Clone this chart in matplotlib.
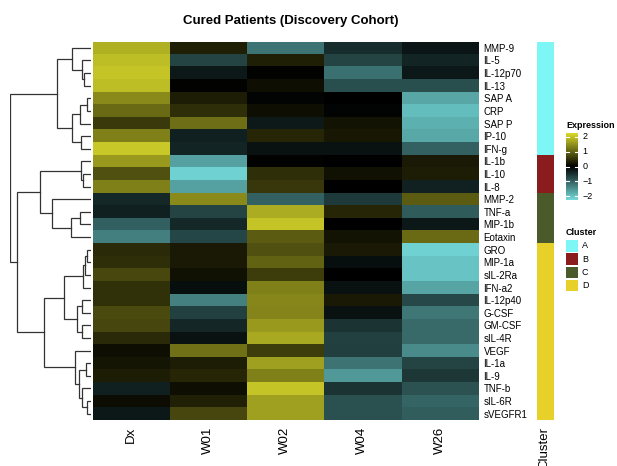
import numpy as np
import matplotlib.pyplot as plt
from matplotlib.colors import LinearSegmentedColormap, ListedColormap
from matplotlib.patches import Rectangle

plt.rcParams['font.family'] = ['Liberation Sans', 'DejaVu Sans']

# 数据：行为细胞因子，列为时间点
genes = ['MMP-9', 'IL-5', 'IL-12p70', 'IL-13', 'SAP A', 'CRP', 'SAP P', 'IP-10', 'IFN-g',
         'IL-1b', 'IL-10', 'IL-8',
         'MMP-2', 'TNF-a', 'MIP-1b', 'Eotaxin',
         'GRO', 'MIP-1a', 'sIL-2Ra', 'IFN-a2', 'IL-12p40', 'G-CSF', 'GM-CSF', 'sIL-4R',
         'VEGF', 'IL-1a', 'IL-9', 'TNF-b', 'sIL-6R', 'sVEGFR1']
timepoints = ['Dx', 'W01', 'W02', 'W04', 'W26']

dx = [1.83, 1.96, 2.04, 1.96, 1.44, 1.10, 0.60, 1.33, 2.08,
      1.60, 0.83, 1.33,
      -0.42, -0.33, -0.98, -1.31,
      0.44, 0.48, 0.75, 0.52, 0.50, 0.77, 0.73, 0.44,
      0.15, 0.23, 0.31, -0.33, 0.12, -0.25]
w01 = [0.33, -0.71, -0.27, 0.02, 0.31, 0.48, 1.15, -0.33, -0.38,
       -1.67, -2.17, -1.67,
       1.44, -0.71, -0.42, -0.73,
       0.27, 0.27, 0.17, -0.15, -1.33, -0.67, -0.40, -0.19,
       1.17, 0.31, 0.40, 0.15, 0.35, 0.73]
w02 = [-1.21, 0.33, 0.03, 0.15, -0.05, 0.15, -0.27, 0.40, -0.19,
       0.02, 0.48, 0.58,
       -1.00, 1.79, 2.04, 0.94,
       0.83, 1.02, 0.63, 1.33, 1.40, 1.38, 1.60, 1.75,
       0.63, 1.67, 1.33, 2.04, 1.67, 1.67]
w04 = [-0.46, -0.71, -1.17, -0.82, 0.00, -0.05, 0.21, 0.25, -0.19,
       0.00, 0.17, 0.00,
       -0.60, 0.40, 0.00, 0.21,
       0.27, -0.15, 0.00, -0.19, 0.27, -0.19, -0.54, -0.67,
       -0.65, -1.21, -1.60, -0.54, -0.83, -0.83]
w26 = [-0.23, -0.38, -0.25, -0.82, -1.72, -1.96, -1.83, -1.75, -1.00,
       0.27, 0.31, -0.35,
       0.94, -0.94, -0.25, 1.10,
       -2.17, -2.04, -2.04, -1.71, -0.75, -1.25, -1.10, -1.10,
       -1.44, -0.71, -0.58, -0.85, -1.04, -0.96]

gene_cluster = ['A', 'A', 'A', 'A', 'A', 'A', 'A', 'A', 'A',
                'B', 'B', 'B',
                'C', 'C', 'C', 'C',
                'D', 'D', 'D', 'D', 'D', 'D', 'D', 'D',
                'D', 'D', 'D', 'D', 'D', 'D']
cluster_names = ['A', 'B', 'C', 'D']
cluster_colors = ['#7ff6f6', '#8b1c1e', '#4a5a2a', '#e8d02a']

# 层次聚类树：(高度, 左, 右)，叶子为行号
tree = (243,
        (101,
         (58, 0, (28, 1, (22, 2, 3))),
         (58, (33, (11, 4, 5), 6), (31, 7, 8))),
        (223,
         (153,
          (30, 9, (24, 10, 11)),
          (118, 12, (60, (33, 13, 14), 15))),
         (140,
          (80,
           (25, (18, (11, 16, 17), 18), 19),
           (43, (28, 20, 21), (28, 22, 23))),
          (48,
           24,
           (36, (15, 25, 26), (28, 27, (13, 28, 29)))))))

W, H = 617, 466


def box(x0, y0, x1, y1):
    return [x0 / W, 1 - y1 / H, (x1 - x0) / W, (y1 - y0) / H]


cmap = LinearSegmentedColormap.from_list('expr', ['#80f0f0', '#000000', '#f0f030'])
vmin, vmax = -2.5, 2.5

fig = plt.figure(figsize=(W / 100, H / 100), dpi=100)

# 热图
ax_hm = fig.add_axes(box(92.5, 41.5, 478, 420))
data = np.array([dx, w01, w02, w04, w26]).T
ax_hm.imshow(data, cmap=cmap, vmin=vmin, vmax=vmax, aspect='auto', interpolation='nearest')
ax_hm.set_xticks(range(len(timepoints)))
ax_hm.set_xticklabels(timepoints, rotation=90, fontsize=9.5)
ax_hm.yaxis.tick_right()
ax_hm.set_yticks(range(len(genes)))
ax_hm.set_yticklabels(genes, fontsize=7)
ax_hm.tick_params(axis='x', length=0, pad=5)
ax_hm.tick_params(axis='y', length=0, pad=4)
for s in ax_hm.spines.values():
    s.set_visible(False)

# 聚类注释条
ax_cl = fig.add_axes(box(536.5, 41.5, 553, 420))
codes = np.array([cluster_names.index(c) for c in gene_cluster]).reshape(-1, 1)
ax_cl.imshow(codes, cmap=ListedColormap(cluster_colors), vmin=-0.5, vmax=3.5,
             aspect='auto', interpolation='nearest')
ax_cl.set_xticks([0])
ax_cl.set_xticklabels(['Cluster'], rotation=90, fontsize=9.5)
ax_cl.set_yticks([])
ax_cl.tick_params(axis='x', length=0, pad=5)
for s in ax_cl.spines.values():
    s.set_visible(False)

# 树状图
ax_d = fig.add_axes(box(10, 41.5, 91, 420))


def draw(node):
    if not isinstance(node, tuple):
        return float(node), 0.0
    h, left, right = node
    y1, h1 = draw(left)
    y2, h2 = draw(right)
    ax_d.plot([h1, h, h, h2], [y1, y1, y2, y2], color='#333333', lw=0.9,
              solid_joinstyle='miter')
    return (y1 + y2) / 2, h


draw(tree)
ax_d.set_ylim(len(genes) - 0.5, -0.5)
ax_d.set_xlim(tree[0], 0)
ax_d.axis('off')

# 颜色条图例
cb_lo, cb_hi = -2.27, 2.27
ax_cb = fig.add_axes(box(566, 133, 578, 200))
grad = np.linspace(cb_lo, cb_hi, 256).reshape(-1, 1)
ax_cb.imshow(grad, cmap=cmap, vmin=vmin, vmax=vmax, origin='lower',
             extent=[0, 1, cb_lo, cb_hi], aspect='auto')
for t in [-2, -1, 0, 1, 2]:
    ax_cb.plot([0, 0.22], [t, t], color='white', lw=0.8)
    ax_cb.plot([0.78, 1], [t, t], color='white', lw=0.8)
    ax_cb.text(1.4, t, str(t).replace('-', '\u2212'), fontsize=6.5, va='center', ha='left')
ax_cb.set_xlim(0, 1)
ax_cb.set_ylim(cb_lo, cb_hi)
ax_cb.axis('off')
fig.text(566 / W, 1 - 125 / H, 'Expression', fontsize=6.5, fontweight='bold', va='center')

# 聚类图例
fig.text(566 / W, 1 - 232 / H, 'Cluster', fontsize=6.5, fontweight='bold', va='center')
for i, (name, col) in enumerate(zip(cluster_names, cluster_colors)):
    y_top = 240 + i * 13.3
    fig.add_artist(Rectangle((566 / W, 1 - (y_top + 11.5) / H), 11.5 / W, 11.5 / H,
                             transform=fig.transFigure, color=col, lw=0))
    fig.text(582 / W, 1 - (y_top + 5.7) / H, name, fontsize=6.5, va='center')

fig.text(291 / W, 1 - 21 / H, 'Cured Patients (Discovery Cohort)', fontsize=9.5,
         fontweight='bold', ha='center', va='center')

fig.savefig('out.png', dpi=100)
